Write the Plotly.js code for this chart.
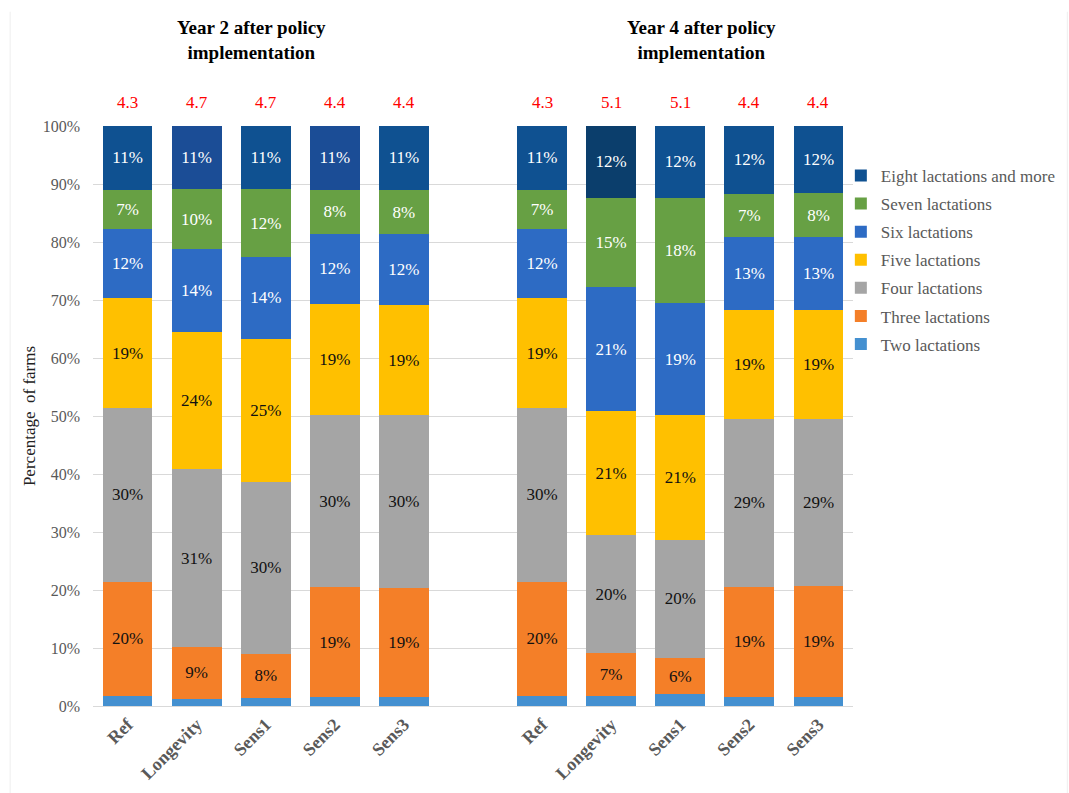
<!DOCTYPE html>
<html>
<head>
<meta charset="utf-8">
<script src="https://cdn.plot.ly/plotly-3.0.1.min.js"></script>
<style>html,body{margin:0;padding:0;background:#fff;}#chart{width:1069px;height:793px;}</style>
</head>
<body>
<div id="chart"></div>
<script>
// ---- data ----
const scenarios = ["Ref", "Longevity", "Sens1", "Sens2", "Sens3"];
const seriesNames = ["Two lactations", "Three lactations", "Four lactations", "Five lactations", "Six lactations", "Seven lactations", "Eight lactations and more"];
const yTickValues = [0, 10, 20, 30, 40, 50, 60, 70, 80, 90, 100];

// Year 2 after policy implementation (% of farms)
const y2Two   = [1.8, 1.2, 1.4, 1.5, 1.5];
const y2Three = [19.6, 9.0, 7.6, 19.0, 18.9];
const y2Four  = [30.0, 30.6, 29.6, 29.6, 29.7];
const y2Five  = [18.9, 23.6, 24.7, 19.2, 19.1];
const y2Six   = [11.9, 14.4, 14.1, 12.1, 12.1];
const y2Seven = [6.8, 10.3, 11.7, 7.6, 7.7];
const y2Eight = [11.0, 10.9, 10.9, 11.0, 11.0];

// Year 4 after policy implementation (% of farms)
const y4Two   = [1.8, 1.8, 2.0, 1.5, 1.5];
const y4Three = [19.6, 7.3, 6.3, 19.1, 19.2];
const y4Four  = [30.0, 20.4, 20.4, 28.9, 28.8];
const y4Five  = [18.9, 21.3, 21.4, 18.8, 18.7];
const y4Six   = [11.9, 21.4, 19.4, 12.6, 12.6];
const y4Seven = [6.8, 15.4, 18.1, 7.4, 7.6];
const y4Eight = [11.0, 12.4, 12.4, 11.7, 11.6];

// Average number of lactations (red numbers)
const avgY2 = [4.3, 4.7, 4.7, 4.4, 4.4];
const avgY4 = [4.3, 5.1, 5.1, 4.4, 4.4];

const groupTitles = ["Year 2 after policy<br>implementation", "Year 4 after policy<br>implementation"];

// ---- build ----
const posY2 = [0, 1, 2, 3, 4];
const posY4 = [6, 7, 8, 9, 10];
const xs = posY2.concat(posY4);

const year2 = [y2Two, y2Three, y2Four, y2Five, y2Six, y2Seven, y2Eight];
const year4 = [y4Two, y4Three, y4Four, y4Five, y4Six, y4Seven, y4Eight];

const colors = ["#4490D0", "#F47F28", "#A5A5A5", "#FFC000", "#2D6BC4", "#67A044", "#0F5191"];
const eightColors = ["#0F5191", "#1B4D96", "#0F5191", "#1B4D96", "#0F5191",
                     "#0F5191", "#0B3E6C", "#0F5191", "#0F5191", "#0F5191"];
const textColors = ["#000", "#111", "#111", "#111", "#fff", "#fff", "#fff"];
const FONT = "Liberation Serif";

const traces = seriesNames.map((name, i) => ({
  type: "bar",
  name: name,
  x: xs,
  y: year2[i].concat(year4[i]),
  legendgroup: name,
  legendrank: 7 - i,
  marker: { color: i === 6 ? eightColors : colors[i], line: { width: 0 } },
  texttemplate: i === 0 ? "" : "%{y:.0f}%",
  textposition: i === 0 ? "none" : "inside",
  insidetextanchor: "middle",
  textangle: 0,
  constraintext: "none",
  textfont: { family: FONT, size: 17, color: textColors[i] },
  hoverinfo: "x+y+name"
}));

const annotations = [];
const redFont = { family: FONT, size: 17, color: "#FF0000" };
posY2.forEach((p, i) => annotations.push({ x: p, y: 1.04, xref: "x", yref: "paper", xanchor: "center", yanchor: "middle", text: avgY2[i].toFixed(1), showarrow: false, font: redFont }));
posY4.forEach((p, i) => annotations.push({ x: p, y: 1.04, xref: "x", yref: "paper", xanchor: "center", yanchor: "middle", text: avgY4[i].toFixed(1), showarrow: false, font: redFont }));
groupTitles.forEach((t, g) => annotations.push({
  x: g === 0 ? 0.208 : 0.801, y: 1.149, xref: "paper", yref: "paper", xanchor: "center", yanchor: "middle",
  text: "<b>" + t.replace("<br>", "</b><br><b>") + "</b>", showarrow: false,
  font: { family: FONT, size: 19, color: "#000" }
}));

const layout = {
  width: 1069, height: 793,
  margin: { l: 92.5, r: 216, t: 126, b: 87, autoexpand: false },
  paper_bgcolor: "#fff", plot_bgcolor: "#fff",
  barmode: "stack",
  bargap: 0.28,
  showlegend: true,
  legend: {
    x: 0.984, y: 0.945, xanchor: "left", yanchor: "top",
    traceorder: "grouped", tracegroupgap: 3,
    font: { family: FONT, size: 17, color: "#595959" },
    itemwidth: 30, bgcolor: "rgba(0,0,0,0)"
  },
  xaxis: {
    range: [-0.5, 10.5],
    tickvals: xs,
    ticktext: scenarios.concat(scenarios).map(s => "<b>" + s + "</b>"),
    tickangle: -45,
    tickfont: { family: FONT, size: 18, color: "#595959" },
    showgrid: false, zeroline: false,
    showline: true, linecolor: "#D9D9D9", linewidth: 1,
    ticks: ""
  },
  yaxis: {
    range: [0, 100],
    tickmode: "array",
    tickvals: yTickValues,
    ticktext: yTickValues.map(v => v + "%"),
    tickfont: { family: FONT, size: 16, color: "#595959" },
    showgrid: true, gridcolor: "#D9D9D9", gridwidth: 1,
    zeroline: false, showline: false,
    ticklabelstandoff: 12,
    title: { text: "Percentage  of farms", font: { family: FONT, size: 17, color: "#222" }, standoff: 2 }
  },
  annotations: annotations,
  shapes: [
    { type: "line", xref: "paper", yref: "paper", x0: -0.109, x1: -0.109, y0: -0.15, y1: 1.197, line: { color: "#EEEEEE", width: 1 } },
    { type: "line", xref: "paper", yref: "paper", x0: 1.282, x1: 1.282, y0: -0.15, y1: 1.197, line: { color: "#EEEEEE", width: 1 } }
  ]
};

Plotly.newPlot("chart", traces, layout, { displayModeBar: false, staticPlot: true });
</script>
</body>
</html>
